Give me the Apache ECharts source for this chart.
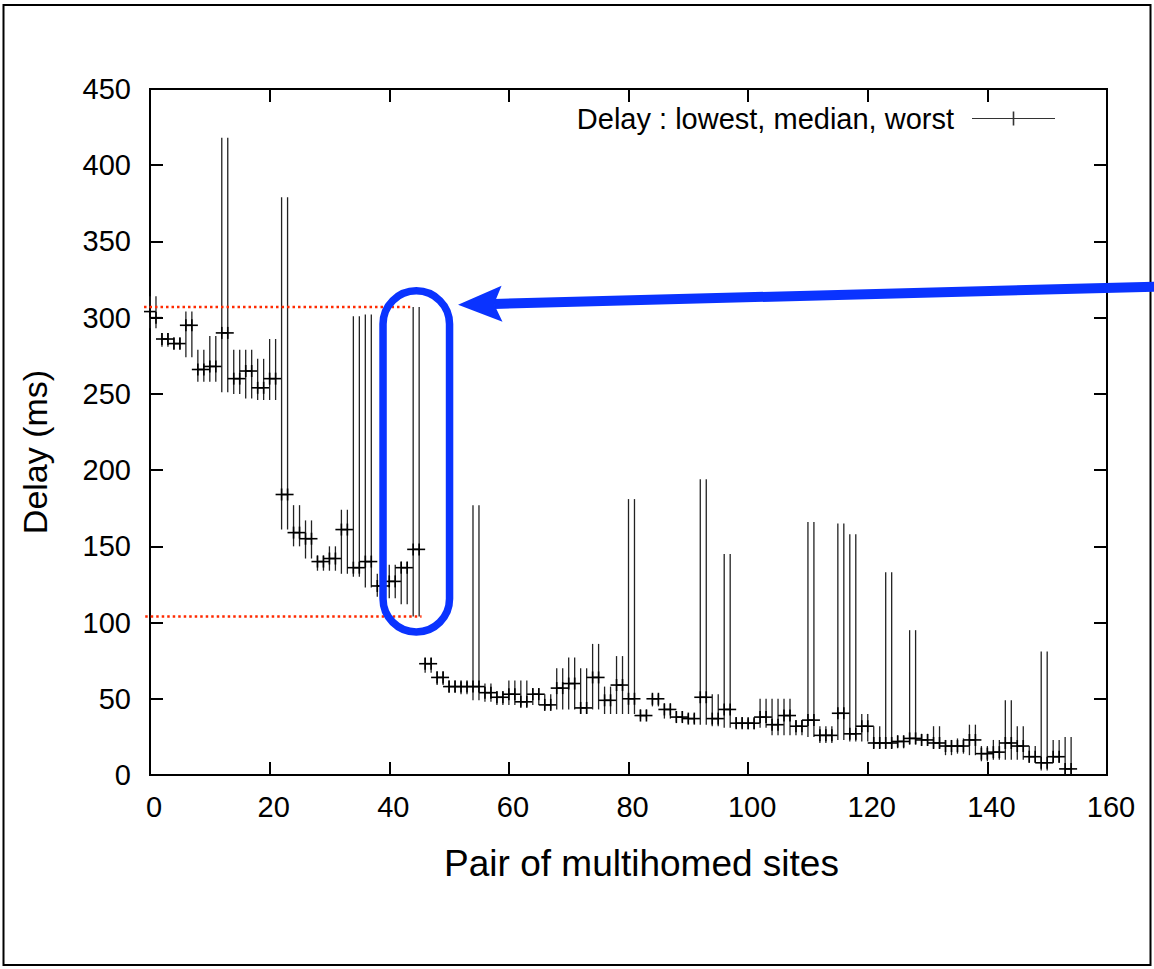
<!DOCTYPE html>
<html>
<head>
<meta charset="utf-8">
<script src="https://cdn.jsdelivr.net/npm/echarts@6/dist/echarts.min.js"></script>
<style>
  html, body { margin: 0; padding: 0; background: #fff; }
  #chart { width: 1154px; height: 969px; }
</style>
</head>
<body>
<div id="chart"></div>
<script>
// delay per pair of multihomed sites (ms), index = site pair number
const lowest = [
  293, 293, 281, 281, 279, 279, 274, 274, 258, 258,
  258, 258, 251, 251, 250, 250, 247, 247, 246, 246,
  246, 246, 161, 161, 150, 150, 142, 142, 134, 134,
  134, 134, 132, 132, 130, 130, 123, 123, 117, 117,
  116, 116, 112, 112, 104, 104, 67, 67, 59, 59,
  54, 54, 53, 53, 49, 49, 48, 48, 46, 46,
  46, 46, 45, 45, 46, 46, 43, 43, 43, 43,
  43, 43, 40, 40, 43, 43, 40, 40, 40, 40,
  40, 40, 37, 37, 45, 45, 37, 37, 35, 35,
  34, 34, 33, 33, 32, 32, 31, 31, 31, 31,
  30, 30, 31, 31, 26, 26, 26, 26, 26, 26,
  25, 25, 21, 21, 21, 23, 23, 22, 22, 22,
  22, 17.5, 17.5, 17.5, 17.5, 17.5, 17.5, 20, 20, 19,
  19, 17.5, 17.5, 13, 13, 14, 14, 13, 13, 9,
  9, 10, 10, 10, 10, 10, 10, 8, 8, 3,
  3, 8, 8, 0, 0
]
const median = [
  304, 300, 286, 286, 283, 283, 295, 295, 266, 266,
  268, 268, 290, 290, 260, 260, 265, 265, 254, 254,
  260, 260, 184, 184, 159, 159, 155, 155, 140, 140,
  142, 142, 161, 161, 136, 136, 140, 140, 124, 124,
  127, 127, 136, 136, 148, 148, 73, 73, 64, 64,
  58, 58, 58, 58, 58, 58, 54, 54, 51, 51,
  53, 53, 48, 48, 53, 53, 46, 46, 57, 57,
  60, 60, 44, 44, 64, 64, 49, 49, 59, 59,
  50, 50, 39, 39, 50, 50, 43, 43, 38, 38,
  37, 37, 51, 51, 37, 37, 43, 43, 34, 34,
  34, 34, 38, 38, 33, 33, 39, 39, 32, 32,
  36, 36, 26, 26, 26, 40.5, 40.5, 27, 27, 32,
  32, 21, 21, 21, 21, 22, 22, 24, 24, 23,
  23, 21, 21, 19, 19, 19, 19, 23, 23, 14,
  14, 15, 15, 21, 21, 19, 19, 12, 12, 8,
  8, 12, 12, 4, 4
]
const worst = [
  314, 314, 290, 290, 287, 287, 304, 304, 279, 279,
  288, 288, 418, 418, 279, 279, 279, 279, 273, 273,
  286, 286, 379, 379, 177, 177, 167, 167, 144, 144,
  150, 150, 174, 174, 301, 301, 302, 302, 132, 132,
  138, 138, 140, 140, 307, 307, 77, 77, 68, 68,
  62, 62, 61, 61, 177, 177, 60, 60, 55, 55,
  62, 62, 62, 62, 57, 57, 53, 53, 70, 70,
  77, 77, 70, 70, 86, 86, 58, 58, 78, 78,
  181, 181, 43, 43, 53, 53, 47, 47, 42, 42,
  40, 40, 194, 194, 53, 53, 145, 145, 38, 38,
  37, 37, 50, 50, 50, 50, 50, 50, 36, 36,
  166, 166, 32, 32, 32, 165, 165, 158, 158, 40,
  40, 32, 32, 133, 133, 26, 26, 95, 95, 27,
  27, 32, 32, 23, 23, 24, 24, 33, 33, 19,
  19, 23, 23, 49, 49, 32, 32, 19, 19, 81,
  81, 23, 23, 25, 25
]
const seriesName = 'Delay : lowest, median, worst'
const xTitle = 'Pair of multihomed sites'
const yTitle = 'Delay (ms)'

const FONT = "'Liberation Sans', Arial, Helvetica, sans-serif"
const data = lowest.map((lo, i) => [i, lo, median[i], worst[i]])

const chart = echarts.init(document.getElementById('chart'), null, { renderer: 'svg' })

// error bar + "+" point at the median
function renderItem(params, api) {
  const x = api.value(0)
  const lo = api.coord([x, api.value(1)])
  const md = api.coord([x, api.value(2)])
  const hi = api.coord([x, api.value(3)])
  const arm = 6
  return {
    type: 'group',
    children: [
      { type: 'line', shape: { x1: lo[0], y1: lo[1], x2: hi[0], y2: hi[1] }, style: { stroke: '#222', lineWidth: 1.3 } },
      { type: 'line', shape: { x1: md[0] - arm, y1: md[1], x2: md[0] + arm, y2: md[1] }, style: { stroke: '#000', lineWidth: 1.6 } },
      { type: 'line', shape: { x1: md[0], y1: md[1] - arm, x2: md[0], y2: md[1] + arm }, style: { stroke: '#000', lineWidth: 1.6 } }
    ]
  }
}

const axisLine = { show: true, onZero: false, lineStyle: { color: '#000', width: 2 } }
const axisTick = { show: true, inside: true, length: 13, lineStyle: { color: '#000', width: 2 } }
const label = { fontSize: 29, color: '#000', fontFamily: FONT }

const option = {
  animation: false,
  backgroundColor: '#fff',
  grid: { left: 150, top: 89, width: 957, height: 686, show: true, borderColor: '#000', borderWidth: 2 },
  legend: {
    right: 99,
    top: 104,
    padding: 0,
    align: 'right',
    itemWidth: 83,
    itemHeight: 14,
    selectedMode: false,
    icon: 'path://M0,6.4h83v1.2h-83z M40.7,0h1.6v14h-1.6z',
    itemStyle: { color: '#333' },
    textStyle: { fontSize: 29, color: '#000', fontFamily: FONT, padding: [0, 13, 0, 0] },
    data: [seriesName]
  },
  xAxis: [
    {
      type: 'value', min: 0, max: 160, interval: 20, position: 'bottom',
      axisLine, axisTick, splitLine: { show: false },
      axisLabel: { ...label, margin: 17, padding: [0, 0, 0, 8] },
      name: xTitle, nameLocation: 'middle', nameGap: 70,
      nameTextStyle: { fontSize: 37, color: '#000', fontFamily: FONT, padding: [0, 0, 0, 26] }
    },
    {
      type: 'value', min: 0, max: 160, interval: 20, position: 'top',
      axisLine, axisTick, splitLine: { show: false }, axisLabel: { show: false }
    }
  ],
  yAxis: [
    {
      type: 'value', min: 0, max: 450, interval: 50, position: 'left',
      axisLine, axisTick, splitLine: { show: false },
      axisLabel: { ...label, margin: 19 },
      name: yTitle, nameLocation: 'middle', nameGap: 98, nameRotate: 90,
      nameTextStyle: { fontSize: 34, color: '#000', fontFamily: FONT, padding: [0, 40, 0, 0] }
    },
    {
      type: 'value', min: 0, max: 450, interval: 50, position: 'right',
      axisLine, axisTick, splitLine: { show: false }, axisLabel: { show: false }
    }
  ],
  series: [
    {
      name: seriesName,
      type: 'custom',
      renderItem,
      itemStyle: { color: '#333' },
      encode: { x: 0, y: [1, 2, 3] },
      data,
      z: 3
    }
  ]
}

chart.setOption(option)

// annotations drawn on top, placed in data coordinates
const px = (x, y) => chart.convertToPixel({ gridIndex: 0 }, [x, y])
const hiStart = px(-1, worst[44]), hiEnd = px(43.5, worst[44])
const loStart = px(-0.8, lowest[44]), loEnd = px(45.4, lowest[44])
const boxA = px(38.96, 317.6), boxB = px(50.08, 93.8)
const tail = px(168.5, 320.4), tip = px(51.5, 308.4)

const dx = tail[0] - tip[0], dy = tail[1] - tip[1]
const len = Math.sqrt(dx * dx + dy * dy)
const ux = dx / len, uy = dy / len
const headLen = 44, headHalf = 18
const base = [tip[0] + ux * headLen, tip[1] + uy * headLen]
const neck = [tip[0] + ux * (headLen - 8), tip[1] + uy * (headLen - 8)]
const red = { stroke: '#ff2a00', lineWidth: 2.5, lineDash: [2.5, 3] }
const blue = '#0a33ff'

chart.setOption({
  graphic: [
    { type: 'rect', shape: { x: 3.5, y: 5, width: 1147, height: 960 }, style: { fill: null, stroke: '#000', lineWidth: 2 }, z: 0, silent: true },
    { type: 'line', shape: { x1: hiStart[0], y1: hiStart[1], x2: hiEnd[0], y2: hiEnd[1] }, style: red, z: 10 },
    { type: 'line', shape: { x1: loStart[0], y1: loStart[1], x2: loEnd[0], y2: loEnd[1] }, style: red, z: 10 },
    {
      type: 'rect',
      shape: { x: boxA[0], y: boxA[1], width: boxB[0] - boxA[0], height: boxB[1] - boxA[1], r: (boxB[0] - boxA[0]) / 2 },
      style: { fill: null, stroke: blue, lineWidth: 7.5 }, z: 11
    },
    { type: 'line', shape: { x1: tail[0], y1: tail[1], x2: neck[0], y2: neck[1] }, style: { stroke: blue, lineWidth: 10 }, z: 11 },
    {
      type: 'polygon',
      shape: {
        points: [
          tip,
          [base[0] - uy * headHalf, base[1] + ux * headHalf],
          neck,
          [base[0] + uy * headHalf, base[1] - ux * headHalf]
        ]
      },
      style: { fill: blue }, z: 11
    }
  ]
})
</script>
</body>
</html>
